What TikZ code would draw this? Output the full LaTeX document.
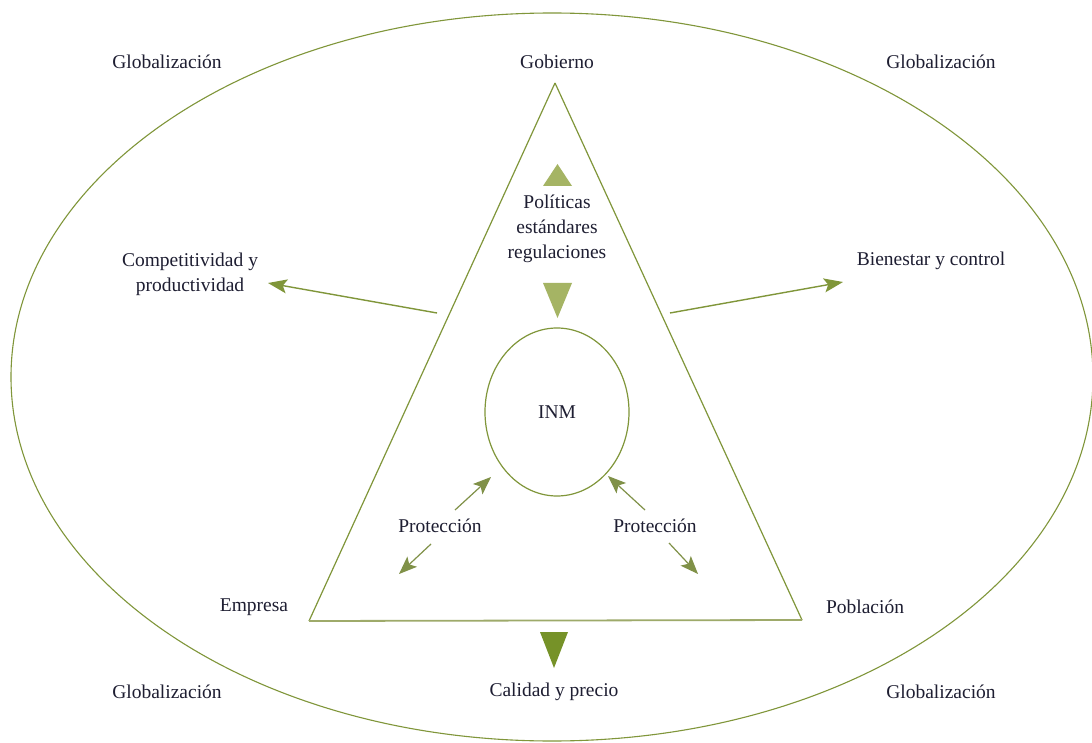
\documentclass[tikz,border=0pt]{standalone}
\usepackage{fontspec}
\setmainfont{Liberation Serif}
\usetikzlibrary{arrows.meta,shapes.geometric}
\definecolor{olive}{RGB}{128,150,58}
\definecolor{lightolive}{RGB}{165,180,100}
\definecolor{darkolive}{RGB}{118,146,40}
\definecolor{txt}{RGB}{30,30,50}
\tikzset{
  lbl/.style={text=txt, font=\fontsize{19.5}{25}\selectfont, inner sep=1pt, align=center},
  garrow/.style={draw=olive, line width=1.4pt, -{Stealth[length=19pt,width=14pt,inset=4pt]}},
  parrow/.style={draw=olive!80!gray, line width=1.2pt, -{Stealth[length=18pt,width=14pt,inset=4pt]}},
  tri/.style={fill=lightolive, draw=none},
  tridark/.style={fill=darkolive, draw=none}
}
\begin{document}
\begin{tikzpicture}[x=1pt,y=-1pt]
\useasboundingbox (0,0) rectangle (1092,743);
\fill[white] (0,0) rectangle (1092,743);
% outer ellipse
\draw[olive, line width=1.1pt] (552,377) ellipse [x radius=541, y radius=364];
% main triangle
\coordinate (G) at (555,83);
\coordinate (E) at (309,621);
\coordinate (P) at (802,620);
\draw[olive, line width=1.2pt] (G) -- (E);
\draw[olive, line width=1.2pt] (G) -- (P);
\draw[lightolive!80!gray, line width=1.8pt] (E) -- (P);
% INM ellipse
\node[draw=olive, line width=1.2pt, ellipse, minimum width=144pt, minimum height=168pt, inner sep=0pt, lbl] (inm) at (557,412) {INM};
% small triangles
\fill[tri] (543,186) -- (572,186) -- (557.5,164) -- cycle;
\fill[tri] (543,283) -- (572,283) -- (557.5,318) -- cycle;
\fill[tridark] (540,632) -- (568,632) -- (554,668) -- cycle;
% texts
\node[lbl] (glo1) at (167,62) {Globalización};
\node[lbl] (glo2) at (941,62) {Globalización};
\node[lbl] (glo3) at (167,692) {Globalización};
\node[lbl] (glo4) at (941,692) {Globalización};
\node[lbl] (gob) at (557,62) {Gobierno};
\node[lbl] (pol) at (557,229) {Políticas\\estándares\\regulaciones};
\node[lbl] (comp) at (190,274) {Competitividad y\\productividad};
\node[lbl] (bien) at (931,261) {Bienestar y control};
\node[lbl] (emp) at (254,607) {Empresa};
\node[lbl] (pob) at (865,607) {Población};
\node[lbl] (cal) at (554,692) {Calidad y precio};
\node[lbl] (prot1) at (440,526) {Protección};
\node[lbl] (prot2) at (655,526) {Protección};
% arrows
\coordinate (la1) at (437,313);
\coordinate (la2) at (268,283);
\coordinate (ra1) at (670,313);
\coordinate (ra2) at (843,282);
\draw[garrow] (la1) -- (la2);
\draw[garrow] (ra1) -- (ra2);
\coordinate (p1a) at (455,510);
\coordinate (p1b) at (491,477);
\coordinate (p1c) at (431,544);
\coordinate (p1d) at (399,574);
\coordinate (p2a) at (645,510);
\coordinate (p2b) at (608,476);
\coordinate (p2c) at (669,543);
\coordinate (p2d) at (698,574);
\draw[parrow] (p1a) -- (p1b);
\draw[parrow] (p1c) -- (p1d);
\draw[parrow] (p2a) -- (p2b);
\draw[parrow] (p2c) -- (p2d);
\end{tikzpicture}
\end{document}
